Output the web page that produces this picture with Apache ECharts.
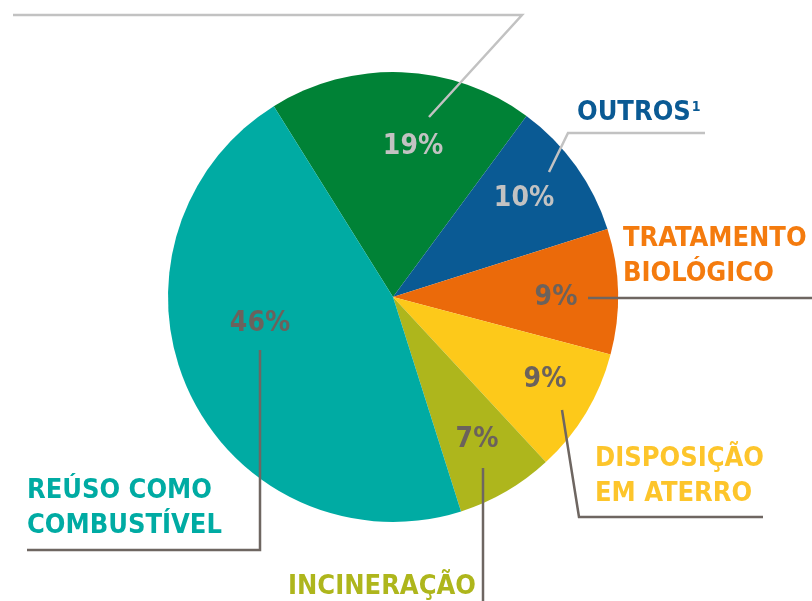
<!DOCTYPE html>
<html><head><meta charset="utf-8">
<script src="https://cdn.jsdelivr.net/npm/echarts@6/dist/echarts.min.js"></script>
<style>html,body{margin:0;padding:0;background:#fff}#c{width:812px;height:601px}</style>
</head><body><div id="c"></div>
<script>
// ---- data ----
const categories = ['', 'OUTROS', 'TRATAMENTO\nBIOLÓGICO', 'DISPOSIÇÃO\nEM ATERRO', 'INCINERAÇÃO', 'REÚSO COMO\nCOMBUSTÍVEL'];
const values = [19, 10, 9, 9, 7, 46];
const percentLabels = ['19%', '10%', '9%', '9%', '7%', '46%'];

// ---- styles / layout ----
const sliceColors = ['#008236', '#0a5a94', '#eb6a0a', '#fdc91a', '#aeb61c', '#00aba3'];
const nameColors = ['#008236', '#0a5a94', '#f47b0e', '#fdc52b', '#aeb61c', '#00aba3'];
const pctColors = ['#c2c2c2', '#c2c2c2', '#6b625c', '#6b625c', '#6b625c', '#6b625c'];
const lineColors = ['#c2c2c2', '#c2c2c2', '#6e6661', '#6e6661', '#6e6661', '#6e6661'];
const pctPos = [[413,147],[524,199],[556,298],[545,380],[477,440],[260,324]];
const namePos = [[13,-60],[577,113],[623,256],[595,476],[288,587],[27,508]];
const leaderPts = [
  [[429,117],[522,15],[13,15]],
  [[549,172],[568,133],[705,133]],
  [[588,298],[812,298]],
  [[562,410],[579,517],[763,517]],
  [[483,468],[483,601]],
  [[260,350],[260,550],[27,550]]
];
const FONT = '"DejaVu Sans Condensed", "Liberation Sans Narrow", sans-serif';

const chart = echarts.init(document.getElementById('c'), null, {renderer: 'canvas'});
const center = [393, 297];
const radius = 225;
const startAngle = 122;

chart.setOption({
  animation: false,
  series: [
    {
      type: 'pie', center, radius, startAngle, clockwise: true,
      silent: true,
      itemStyle: {borderWidth: 0},
      data: categories.map((n, i) => ({
        name: n, value: values[i],
        itemStyle: {color: sliceColors[i]},
        label: {color: pctColors[i]}
      })),
      label: {
        show: true, position: 'inside',
        formatter: p => percentLabels[p.dataIndex],
        fontFamily: FONT, fontWeight: 'bold', fontSize: 28
      },
      labelLine: {show: false},
      labelLayout: p => ({
        x: pctPos[p.dataIndex][0], y: pctPos[p.dataIndex][1],
        align: 'center', verticalAlign: 'middle'
      })
    },
    {
      type: 'pie', center, radius, startAngle, clockwise: true,
      silent: true, z: 3,
      itemStyle: {color: 'rgba(0,0,0,0)', borderWidth: 0},
      data: categories.map((n, i) => ({
        name: n, value: values[i],
        itemStyle: {color: 'rgba(0,0,0,0)'},
        label: {color: nameColors[i]},
        labelLine: {lineStyle: {color: lineColors[i], width: 2.5}}
      })),
      label: {
        show: true, position: 'outside', overflow: 'none',
        formatter: p => p.dataIndex === 1 ? 'OUTROS{sup|1}' : (p.name || 'X'),
        fontFamily: FONT, fontWeight: 'bold', fontSize: 27, lineHeight: 35,
        align: 'left',
        rich: {
          sup: {fontFamily: FONT, fontWeight: 'bold', fontSize: 14, padding: [0, 0, 12, 1]}
        }
      },
      labelLine: {show: true, length: 10, length2: 10, smooth: false},
      labelLayout: p => ({
        x: namePos[p.dataIndex][0], y: namePos[p.dataIndex][1],
        width: 400,
        align: 'left', verticalAlign: 'middle',
        labelLinePoints: leaderPts[p.dataIndex]
      })
    }
  ]
});
</script></body></html>
